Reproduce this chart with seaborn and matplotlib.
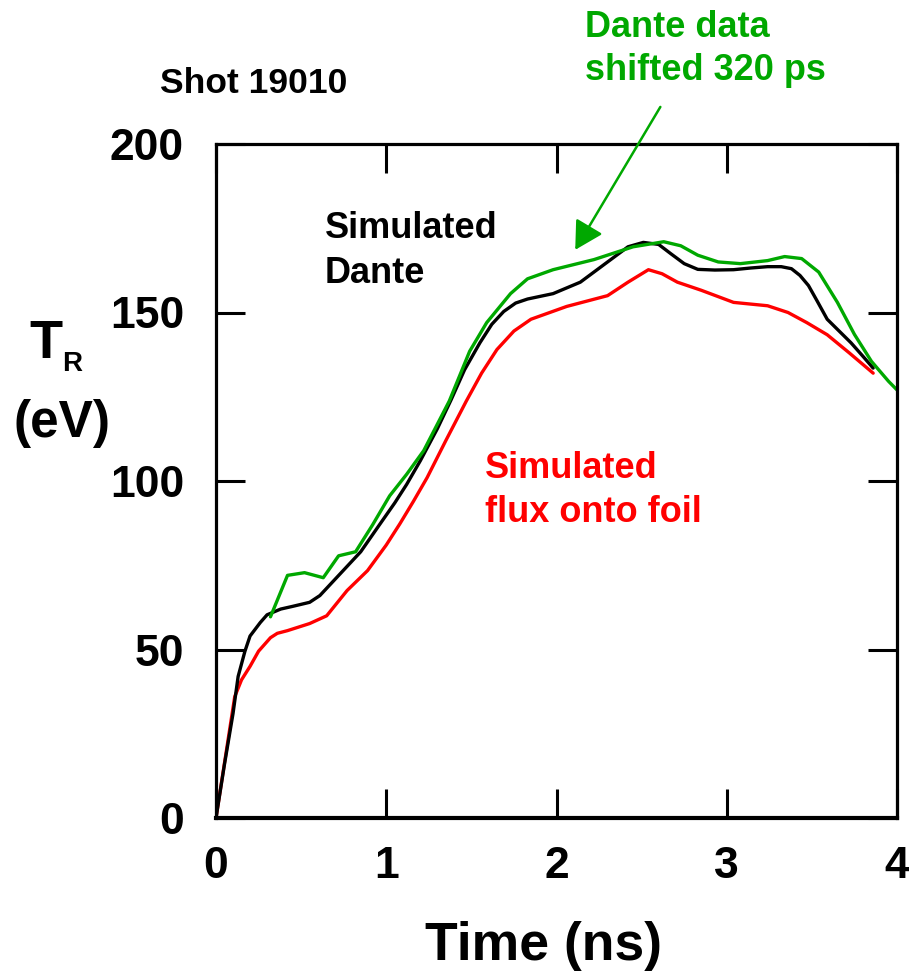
import matplotlib
matplotlib.use("Agg")
import matplotlib.pyplot as plt
import seaborn as sns
import pandas as pd

# Simulated Dante signal (black)
time_sim_dante = [0, 0.05, 0.1, 0.13, 0.17, 0.2, 0.26, 0.3, 0.38, 0.45, 0.55, 0.61,
                  0.73, 0.85, 0.96, 1.05, 1.12, 1.2, 1.3, 1.38, 1.46, 1.55, 1.62,
                  1.69, 1.76, 1.83, 1.98, 2.14, 2.30, 2.42, 2.51, 2.60, 2.67, 2.75,
                  2.83, 2.93, 3.04, 3.14, 3.24, 3.32, 3.38, 3.43, 3.48, 3.53, 3.59,
                  3.66, 3.73, 3.80, 3.86]
tr_sim_dante = [0, 16, 31, 42, 49.5, 54, 58, 60.3, 62, 62.8, 64, 66,
                72.5, 79, 87, 93.5, 99, 106, 115.5, 124, 133, 141, 146.5,
                150.3, 152.8, 154, 155.6, 159, 165, 169.5, 170.8, 170.2, 167.5, 164.5,
                162.8, 162.6, 162.7, 163.2, 163.6, 163.6, 163, 161, 158, 153.5, 148,
                144.5, 141, 137, 133.5]

# Simulated flux onto foil (red)
time_sim_foil = [0, 0.11, 0.15, 0.2, 0.25, 0.32, 0.36, 0.42, 0.55, 0.65, 0.77, 0.89,
                 1.0, 1.08, 1.16, 1.24, 1.35, 1.47, 1.56, 1.65, 1.75, 1.85, 2.06,
                 2.30, 2.42, 2.54, 2.62, 2.71, 2.85, 3.04, 3.24, 3.36, 3.47, 3.59,
                 3.72, 3.86]
tr_sim_foil = [0, 36, 41, 45, 49.5, 53.5, 54.8, 55.6, 57.7, 60, 67.5, 73.4,
               81, 87.3, 94, 101, 112, 123.7, 132, 139, 144.5, 148, 151.8,
               155, 159, 162.7, 161.5, 159, 156.6, 153, 152, 150, 147, 143.4,
               138, 132]

# Dante data shifted 320 ps (green)
time_dante = [0.32, 0.42, 0.52, 0.63, 0.72, 0.82, 0.92, 1.02, 1.12, 1.22, 1.37, 1.49,
              1.59, 1.73, 1.83, 1.98, 2.22, 2.45, 2.63, 2.73, 2.83, 2.95, 3.08, 3.24,
              3.34, 3.44, 3.54, 3.65, 3.75, 3.85, 3.95, 4.02]
tr_dante = [59.7, 72, 72.8, 71.3, 77.8, 79, 87, 95.6, 102, 109, 123.7, 138.5,
            147, 155.6, 160, 162.7, 165.7, 169.5, 171, 169.8, 167, 165, 164.5, 165.4,
            166.6, 166, 162, 153, 143.5, 135.5, 129.6, 126]

x_ticks = [0, 1, 2, 3, 4]
y_ticks = [0, 50, 100, 150, 200]

GREEN = "#00A800"
RED = "#FF0000"
BLACK = "#000000"

sns.set_style("white")
plt.rcParams["font.family"] = ["Liberation Sans", "DejaVu Sans"]
plt.rcParams["font.weight"] = "bold"
plt.rcParams["lines.solid_joinstyle"] = "round"

W, H = 909, 977
fig = plt.figure(figsize=(W / 100, H / 100), dpi=100)


def fx(px):
    return px / W


def fy(py):
    return 1 - py / H


ax = fig.add_axes([fx(216), fy(818), (897 - 216) / W, (818 - 144) / H])

df_black = pd.DataFrame({"t": time_sim_dante, "T": tr_sim_dante})
df_red = pd.DataFrame({"t": time_sim_foil, "T": tr_sim_foil})
df_green = pd.DataFrame({"t": time_dante, "T": tr_dante})

sns.lineplot(data=df_red, x="t", y="T", ax=ax, color=RED, lw=2.4, sort=False)
sns.lineplot(data=df_black, x="t", y="T", ax=ax, color=BLACK, lw=2.4, sort=False)
sns.lineplot(data=df_green, x="t", y="T", ax=ax, color=GREEN, lw=2.4, sort=False)

ax.set_xlim(0, 4)
ax.set_ylim(0, 200)
ax.set_xticks(x_ticks)
ax.set_yticks(y_ticks)
ax.set_xticklabels([str(v) for v in x_ticks])
ax.set_yticklabels([str(v) for v in y_ticks])
ax.set_xlabel("")
ax.set_ylabel("")

for s in ax.spines.values():
    s.set_visible(True)
    s.set_color("black")
    s.set_linewidth(2.3)
ax.spines["bottom"].set_linewidth(3.0)

ax.tick_params(axis="both", which="major", direction="in", length=21, width=2.2,
               top=True, right=True, bottom=True, left=True, colors="black")
ax.tick_params(axis="x", pad=20, labelsize=32)
ax.tick_params(axis="y", pad=23, labelsize=32)
for lab in ax.get_xticklabels() + ax.get_yticklabels():
    lab.set_fontweight("bold")


# Annotation texts
def ftext(px, py, s, size, color="black", ha="left"):
    fig.text(fx(px), fy(py), s, fontsize=size, fontweight="bold", color=color,
             ha=ha, va="baseline")


ftext(160, 93, "Shot 19010", 25.5)
ftext(585, 37, "Dante data", 26, GREEN)
ftext(585, 80, "shifted 320 ps", 26, GREEN)
ftext(325, 238, "Simulated", 26)
ftext(325, 283, "Dante", 26)
ftext(485, 478, "Simulated", 26, RED)
ftext(485, 522, "flux onto foil", 26, RED)
ftext(29, 358, "T", 39)
ftext(62, 371, "R", 20)
ftext(13, 437, "(eV)", 37)
ftext(425, 960, "Time (ns)", 38.5)

# Arrow pointing at the Dante data curve
ax.annotate("", xy=(2.11, 168.6), xytext=(2.61, 211), xycoords="data",
            textcoords="data", annotation_clip=False,
            arrowprops=dict(arrowstyle="-|>,head_length=0.45,head_width=0.25",
                            color=GREEN, lw=1.8, mutation_scale=38,
                            shrinkA=0, shrinkB=0))

fig.savefig("out.png", dpi=100)
